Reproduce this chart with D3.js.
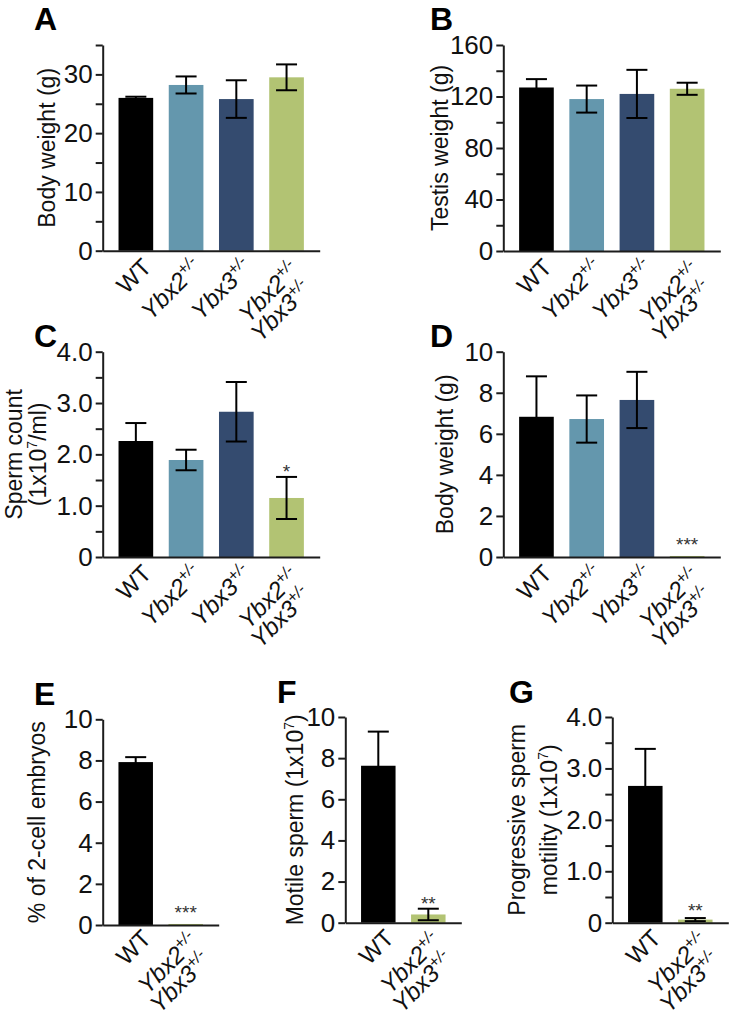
<!DOCTYPE html>
<html><head><meta charset="utf-8">
<script src="https://cdn.jsdelivr.net/npm/d3@7"></script>
<style>
body{margin:0;background:#fff}
svg{display:block}
text{font-family:"Liberation Sans",Arial,Helvetica,sans-serif}
</style>
</head><body>
<svg id="chart" width="733" height="1017"></svg>
<script>
// ---------------- DATA ----------------
const groups4 = ["WT", "Ybx2", "Ybx3", "Ybx2Ybx3"];
const groups2 = ["WT", "Ybx2Ybx3"];
const barColors = {WT: "#000000", Ybx2: "#6497AD", Ybx3: "#344B6F", Ybx2Ybx3: "#B2C373"};
const xLabelLines = {
  WT: [["WT", ""]],
  Ybx2: [["Ybx2", "+/-"]],
  Ybx3: [["Ybx3", "+/-"]],
  Ybx2Ybx3: [["Ybx2", "+/-"], ["Ybx3", "+/-"]]
};

// A: body weight (adult)
const bodyWeightA = [26.0, 28.2, 25.8, 29.5];
const bodyWeightAErr = [0.2, 1.45, 3.2, 2.2];
const ticksA = [0, 5, 10, 15, 20, 25, 30, 35];
const tickLabelsA = ["0", "", "10", "", "20", "", "30", ""];
const sigA = ["", "", "", ""];

// B: testis weight
const testisWeight = [127, 118, 122, 126];
const testisWeightErr = [6.5, 10.5, 18.7, 4.7];
const ticksB = [0, 20, 40, 60, 80, 100, 120, 140, 160];
const tickLabelsB = ["0", "", "40", "", "80", "", "120", "", "160"];
const sigB = ["", "", "", ""];

// C: sperm count
const spermCount = [2.26, 1.89, 2.83, 1.15];
const spermCountErr = [0.35, 0.2, 0.58, 0.41];
const ticksC = [0, 0.5, 1, 1.5, 2, 2.5, 3, 3.5, 4];
const tickLabelsC = ["0", "", "1.0", "", "2.0", "", "3.0", "", "4.0"];
const sigC = ["", "", "", "*"];

// D: body weight
const bodyWeightD = [6.83, 6.72, 7.65, 0.05];
const bodyWeightDErr = [1.97, 1.15, 1.37, 0];
const ticksD = [0, 2, 4, 6, 8, 10];
const tickLabelsD = ["0", "2", "4", "6", "8", "10"];
const sigD = ["", "", "", "***"];

// E: % of 2-cell embryos
const twoCell = [7.92, 0.05];
const twoCellErr = [0.24, 0];
const ticksE = [0, 2, 4, 6, 8, 10];
const tickLabelsE = ["0", "2", "4", "6", "8", "10"];
const sigE = ["", "***"];

// F: motile sperm
const motile = [7.63, 0.4];
const motileErr = [1.66, 0.28];
const ticksF = [0, 2, 4, 6, 8, 10];
const tickLabelsF = ["0", "2", "4", "6", "8", "10"];
const sigF = ["", "**"];

// G: progressive sperm motility
const progressive = [2.66, 0.06];
const progressiveErr = [0.72, 0.03];
const ticksG = [0, 0.5, 1, 1.5, 2, 2.5, 3, 3.5, 4];
const tickLabelsG = ["0", "", "1.0", "", "2.0", "", "3.0", "", "4.0"];
const sigG = ["", "**"];

// ---------------- DRAW ----------------
const svg = d3.select("#chart");
const AX = "#1c1c1c";

function panel(o) {
  const g = svg.append("g");
  const y = d3.scaleLinear().domain([0, o.ticks[o.ticks.length - 1]]).range([o.y0, o.yTop]);
  const x = d3.scaleBand().domain(o.cats).range([o.axisX, o.axisX + o.width])
    .paddingInner(0.31).paddingOuter(0.315);
  const bw = x.bandwidth();
  const data = o.cats.map((c, i) => ({c, v: o.values[i], e: o.errs[i], s: o.sig[i]}));

  // bars
  g.selectAll("rect.bar").data(data).enter().append("rect")
    .attr("x", d => x(d.c)).attr("width", bw)
    .attr("y", d => y(d.v)).attr("height", d => y(0) - y(d.v))
    .attr("fill", d => barColors[d.c]);

  // error bars
  const eb = g.selectAll("g.eb").data(data.filter(d => d.e > 0)).enter().append("g")
    .attr("stroke", "#000").attr("stroke-width", 2).attr("fill", "none");
  eb.append("line").attr("x1", d => x(d.c) + bw / 2).attr("x2", d => x(d.c) + bw / 2)
    .attr("y1", d => y(d.v - d.e)).attr("y2", d => y(d.v + d.e));
  eb.append("line").attr("x1", d => x(d.c) + bw / 2 - 10.5).attr("x2", d => x(d.c) + bw / 2 + 10.5)
    .attr("y1", d => y(d.v + d.e)).attr("y2", d => y(d.v + d.e));
  eb.append("line").attr("x1", d => x(d.c) + bw / 2 - 10.5).attr("x2", d => x(d.c) + bw / 2 + 10.5)
    .attr("y1", d => y(d.v - d.e)).attr("y2", d => y(d.v - d.e));

  // significance
  g.selectAll("text.sig").data(data.filter(d => d.s)).enter().append("text")
    .attr("x", d => x(d.c) + bw / 2)
    .attr("y", d => Math.min(y(d.v + d.e) + 1, y(0) - 6))
    .attr("text-anchor", "middle").attr("font-size", 19).attr("fill", "#333")
    .text(d => d.s);

  // y axis
  const ya = g.append("g").attr("transform", `translate(${o.axisX},0)`)
    .call(d3.axisLeft(y).tickValues(o.ticks).tickFormat((d, i) => o.tickLabels[i])
      .tickSize(7).tickSizeOuter(0).tickPadding(3));
  ya.select(".domain").attr("stroke", AX).attr("stroke-width", 2);
  ya.selectAll(".tick line").attr("stroke", AX).attr("stroke-width", 2);
  ya.selectAll(".tick text").attr("font-size", 26).attr("fill", "#111")
    .attr("font-family", '"Liberation Sans",Arial,sans-serif');

  // x axis
  const xa = g.append("g").attr("transform", `translate(0,${o.y0})`)
    .call(d3.axisBottom(x).tickSize(0).tickSizeOuter(0).tickFormat(""));
  xa.select(".domain").attr("stroke", AX).attr("stroke-width", 2);
  xa.selectAll(".tick").remove();

  // x labels
  const labDy = o.labelDy || 18;
  data.forEach(d => {
    const lines = xLabelLines[d.c];
    const ax = x(d.c) + bw / 2 + 17, ay = o.y0 + labDy;
    lines.forEach((ln, li) => {
      const t = g.append("text")
        .attr("transform", `translate(${ax},${ay}) rotate(-45)`)
        .attr("x", lines.length > 1 ? (li === 0 ? -4 : -9) : 0)
        .attr("y", li * 22)
        .attr("text-anchor", "end").attr("font-size", 24).attr("fill", "#111");
      t.append("tspan").attr("font-style", ln[1] ? "italic" : "normal").text(ln[0]);
      if (ln[1]) t.append("tspan").attr("font-style", "italic").attr("font-size", 16)
        .attr("dy", -9).text(ln[1]);
    });
  });

  // y title
  o.title.forEach((tl, i) => {
    const t = g.append("text")
      .attr("transform", `translate(${o.titleX[i]},${(o.y0 + o.yTop) / 2}) rotate(-90)`)
      .attr("text-anchor", "middle").attr("font-size", 23).attr("fill", "#111");
    tl.forEach(part => {
      const s = t.append("tspan").text(part[0]);
      if (part[1] === "sup") s.attr("font-size", 14).attr("dy", -9);
      if (part[1] === "after") s.attr("dy", 9);
    });
  });

  // panel letter
  g.append("text").attr("x", o.letterX).attr("y", o.letterY)
    .attr("font-size", 32).attr("font-weight", "bold").attr("fill", "#000").text(o.letter);
}

panel({letter: "A", letterX: 34, letterY: 29.5, axisX: 102.7, y0: 250.7, yTop: 45, width: 217,
  cats: groups4, values: bodyWeightA, errs: bodyWeightAErr, sig: sigA,
  ticks: ticksA, tickLabels: tickLabelsA,
  title: [[["Body weight (g)"]]], titleX: [55]});

panel({letter: "B", letterX: 430, letterY: 29.5, axisX: 503.3, y0: 251, yTop: 45, width: 217,
  cats: groups4, values: testisWeight, errs: testisWeightErr, sig: sigB,
  ticks: ticksB, tickLabels: tickLabelsB,
  title: [[["Testis weight (g)"]]], titleX: [448]});

panel({letter: "C", letterX: 34, letterY: 347, axisX: 102.7, y0: 557, yTop: 351.7, width: 217,
  cats: groups4, values: spermCount, errs: spermCountErr, sig: sigC,
  ticks: ticksC, tickLabels: tickLabelsC,
  title: [[["Sperm count"]], [["(1x10"], ["7", "sup"], ["/ml)", "after"]]], titleX: [22, 46]});

panel({letter: "D", letterX: 430, letterY: 347, axisX: 503.3, y0: 557, yTop: 351.7, width: 217,
  cats: groups4, values: bodyWeightD, errs: bodyWeightDErr, sig: sigD,
  ticks: ticksD, tickLabels: tickLabelsD,
  title: [[["Body weight (g)"]]], titleX: [453]});

panel({letter: "E", letterX: 34, letterY: 705, axisX: 102.7, y0: 925, yTop: 719.3, width: 116,
  labelDy: 15,
  cats: groups2, values: twoCell, errs: twoCellErr, sig: sigE,
  ticks: ticksE, tickLabels: tickLabelsE,
  title: [[["% of 2-cell embryos"]]], titleX: [45]});

panel({letter: "F", letterX: 277, letterY: 703, axisX: 345.3, y0: 922.7, yTop: 717, width: 116,
  labelDy: 17,
  cats: groups2, values: motile, errs: motileErr, sig: sigF,
  ticks: ticksF, tickLabels: tickLabelsF,
  title: [[["Motile sperm (1x10"], ["7", "sup"], [")", "after"]]], titleX: [303]});

panel({letter: "G", letterX: 509, letterY: 703, axisX: 612.3, y0: 922.7, yTop: 717, width: 116,
  labelDy: 17,
  cats: groups2, values: progressive, errs: progressiveErr, sig: sigG,
  ticks: ticksG, tickLabels: tickLabelsG,
  title: [[["Progressive sperm"]], [["motility (1x10"], ["7", "sup"], [")", "after"]]], titleX: [525, 557]});
</script>
</body></html>
